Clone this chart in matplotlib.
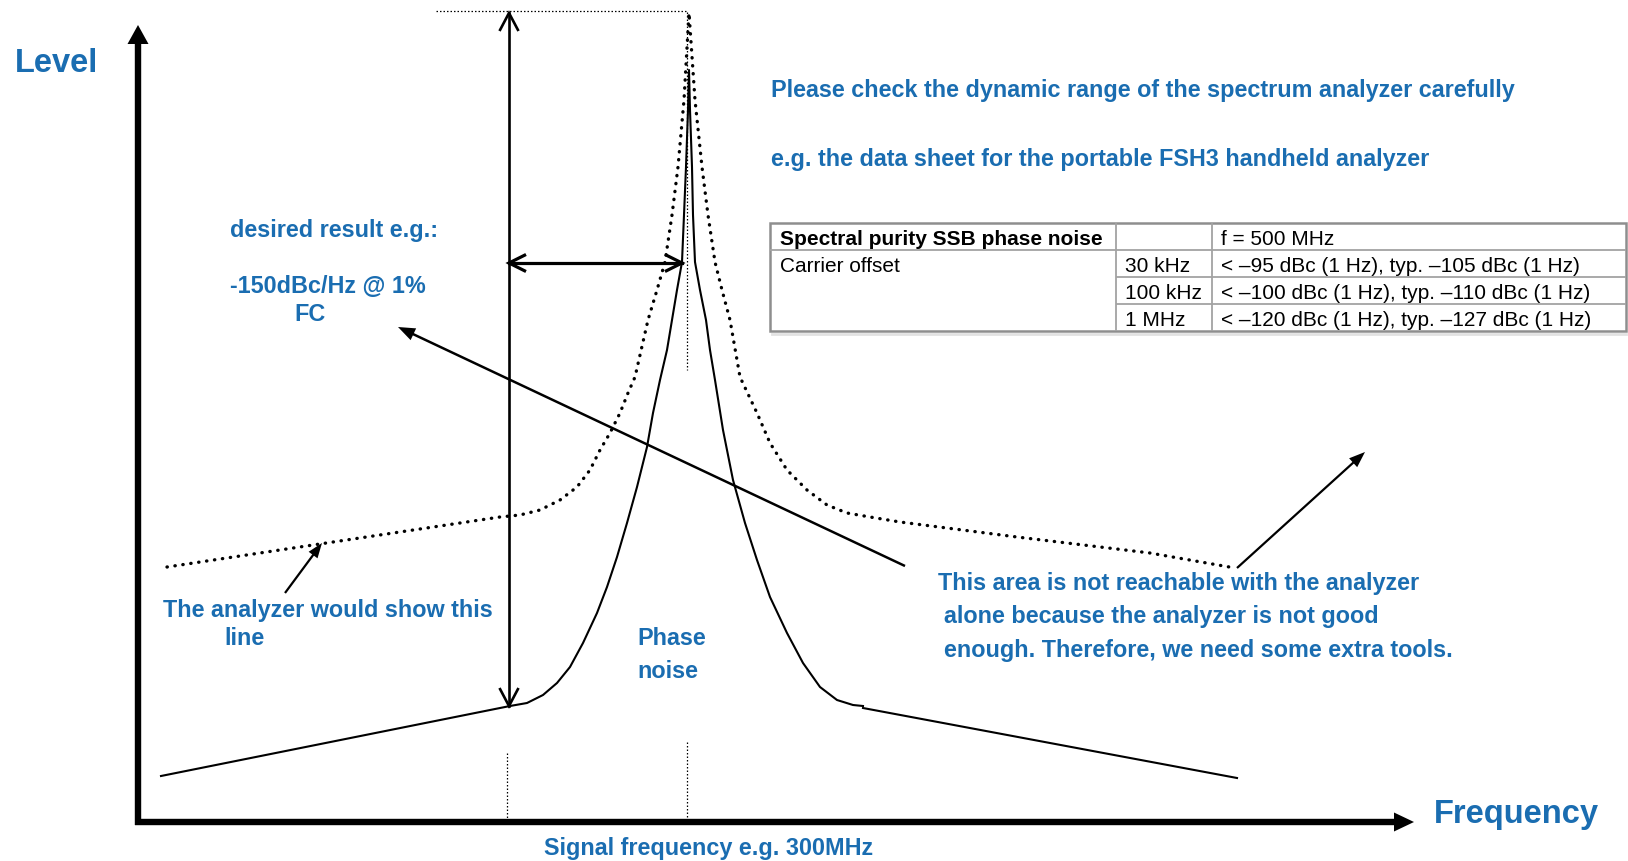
import numpy as np
import matplotlib.pyplot as plt
from matplotlib.patches import Polygon, Rectangle

W, H = 1628, 861
BLUE = '#1a6db1'
FONT = 'Liberation Sans'

# solid phase noise curve of the signal (canvas pixels)
noise_left_x = [161, 510]
noise_left_y = [776, 706]
noise_x = [510, 527, 543, 557, 570, 583, 597, 607, 617, 627, 637, 647, 653, 660, 667, 672,
           677, 682, 684, 686, 688, 689,
           690, 692, 693, 695, 700, 706, 710, 715, 723, 733, 745, 757, 770, 787, 803, 820,
           837, 853, 863]
noise_y = [706, 703, 695, 683, 667, 643, 613, 587, 557, 523, 487, 447, 413, 380, 350, 320,
           290, 262, 215, 167, 110, 70,
           110, 167, 215, 262, 290, 320, 350, 380, 430, 480, 523, 560, 597, 633, 663, 687,
           700, 705, 706]
noise_right_x = [863, 1237]
noise_right_y = [708, 778]

# dotted curve: what the analyzer would show
analyzer_x = [167, 313, 500, 520, 540, 560, 577, 590, 600, 610, 620, 628, 635, 648, 657, 665,
              672, 678, 684, 689,
              695, 702, 708, 715, 722, 730, 740, 757, 770, 787, 807, 827, 847, 870, 900,
              1017, 1150, 1235]
analyzer_y = [567, 545, 517, 515, 510, 500, 487, 470, 450, 433, 413, 393, 377, 320, 290, 262,
              215, 167, 100, 13,
              100, 167, 215, 262, 290, 320, 377, 413, 443, 470, 490, 505, 513, 517, 522,
              537, 553, 568]

# table from the FSH3 data sheet
table_header = ['Spectral purity SSB phase noise', '', 'f = 500 MHz']
table_first = 'Carrier offset'
table_offsets = ['30 kHz', '100 kHz', '1 MHz']
table_specs = ['< \u201395 dBc (1 Hz), typ. \u2013105 dBc (1 Hz)',
               '< \u2013100 dBc (1 Hz), typ. \u2013110 dBc (1 Hz)',
               '< \u2013120 dBc (1 Hz), typ. \u2013127 dBc (1 Hz)']

fig = plt.figure(figsize=(W / 100, H / 100), dpi=100)
ax = fig.add_axes([0, 0, 1, 1])
ax.set_xlim(0, W)
ax.set_ylim(H, 0)
ax.axis('off')


def unit(a, b):
    v = np.array(b, float) - np.array(a, float)
    d = v / np.hypot(*v)
    return d, np.array([-d[1], d[0]])


def filled_arrow(start, tip, lw, head_len, head_w):
    d, n = unit(start, tip)
    tip = np.array(tip, float)
    base = tip - d * head_len
    ax.plot([start[0], base[0] + d[0] * 2], [start[1], base[1] + d[1] * 2],
            color='black', lw=lw, solid_capstyle='butt')
    ax.add_patch(Polygon([tip, base + n * head_w / 2, base - n * head_w / 2],
                         closed=True, fc='black', ec='none'))


def open_head(frm, tip, head_len, head_w, lw):
    d, n = unit(frm, tip)
    tip = np.array(tip, float)
    p1 = tip - d * head_len + n * head_w / 2
    p2 = tip - d * head_len - n * head_w / 2
    ax.plot([p1[0], tip[0], p2[0]], [p1[1], tip[1], p2[1]], color='black', lw=lw,
            solid_joinstyle='miter', solid_capstyle='butt')


# axes of the sketch
origin = (138, 822)
y_tip = (138, 25)
x_tip = (1414, 822)
filled_arrow((origin[0], origin[1] + 3), y_tip, 4.6, 19, 21)
filled_arrow((origin[0] - 3, origin[1]), x_tip, 4.6, 20, 19)

# curves
ax.plot(noise_left_x, noise_left_y, color='black', lw=1.5)
ax.plot(noise_x, noise_y, color='black', lw=1.5, solid_joinstyle='round')
ax.plot(noise_right_x, noise_right_y, color='black', lw=1.5)
ax.plot(analyzer_x, analyzer_y, color='black', lw=2.4, linestyle=(0, (0.1, 2.3)),
        dash_capstyle='round')

# thin dotted guide lines
fine = dict(color='black', lw=0.9, linestyle=(0, (1.2, 1.6)))
ax.plot([436, 687], [11, 11], **fine)
ax.plot([687, 687], [12, 370], **fine)
ax.plot([507, 507], [753, 819], **fine)
ax.plot([687, 687], [742, 819], **fine)

# double arrows for the dynamic range and the offset
ax.plot([509, 509], [13, 706], color='black', lw=1.9)
open_head((509, 706), (509, 13), 18, 19, 1.9)
open_head((509, 13), (509, 706), 18, 19, 1.9)
ax.plot([509, 682], [263, 263], color='black', lw=2.3)
open_head((682, 263), (509, 263), 17, 17, 2.3)
open_head((509, 263), (682, 263), 17, 17, 2.3)

# pointer arrows
filled_arrow((905, 566), (398, 327), 1.8, 17, 13)
filled_arrow((285, 593), (322, 543), 1.6, 15, 11)
filled_arrow((1237, 568), (1365, 452), 1.6, 16, 12)

# blue labels
big = dict(color=BLUE, fontfamily=FONT, fontweight='bold', fontsize=23.5, va='baseline')
txt = dict(color=BLUE, fontfamily=FONT, fontweight='bold', fontsize=16.8, va='baseline')
ax.text(15, 72, 'Level', **big)
ax.text(1434, 823, 'Frequency', **big)
ax.text(771, 97, 'Please check the dynamic range of the spectrum analyzer carefully', **txt)
ax.text(771, 166, 'e.g. the data sheet for the portable FSH3 handheld analyzer', **txt)
ax.text(230, 237, 'desired result e.g.:', **txt)
ax.text(230, 293, '-150dBc/Hz @ 1%', **txt)
ax.text(294, 321, 'FC', **txt)
ax.text(163, 617, 'The analyzer would show this', **txt)
ax.text(224, 645, 'line', **txt)
ax.text(637, 645, 'Phase', **txt)
ax.text(637, 678, 'noise', **txt)
ax.text(938, 590, 'This area is not reachable with the analyzer', **txt)
ax.text(944, 623, 'alone because the analyzer is not good', **txt)
ax.text(944, 657, 'enough. Therefore, we need some extra tools.', **txt)
ax.text(544, 855, 'Signal frequency e.g. 300MHz', **txt)

# data sheet table
col_x = [770, 1116, 1212, 1626]
row_y = [223, 250, 277, 304, 331]
grid = dict(color='#a3a3a3', lw=1.3, solid_capstyle='butt')
ax.plot([col_x[0], col_x[-1]], [row_y[1], row_y[1]], **grid)
for yy in row_y[2:4]:
    ax.plot([col_x[1], col_x[-1]], [yy, yy], **grid)
for xx in col_x[1:3]:
    ax.plot([xx, xx], [row_y[0], row_y[-1]], **grid)
ax.plot([col_x[0] + 2, col_x[-1]], [row_y[-1] + 3, row_y[-1] + 3], color='#e2e2e2', lw=2)
ax.add_patch(Rectangle((col_x[0], row_y[0]), col_x[-1] - col_x[0], row_y[-1] - row_y[0],
                       fill=False, ec='#8e8e8e', lw=1.8))

cell = dict(color='black', fontfamily=FONT, fontsize=15, va='baseline')
ax.text(780, 245, table_header[0], fontweight='bold', **cell)
ax.text(1221, 245, table_header[2], **cell)
ax.text(780, 272, table_first, **cell)
for i, (off, spec) in enumerate(zip(table_offsets, table_specs)):
    base = row_y[i + 1] + 22
    t = ax.text(1125, base, off, **cell)
    t.set_clip_path(Rectangle((col_x[1], row_y[i + 1]), col_x[2] - col_x[1] - 3, 27,
                              transform=ax.transData))
    ax.text(1221, base, spec, **cell)

fig.savefig('out.png', dpi=100, facecolor='white')
